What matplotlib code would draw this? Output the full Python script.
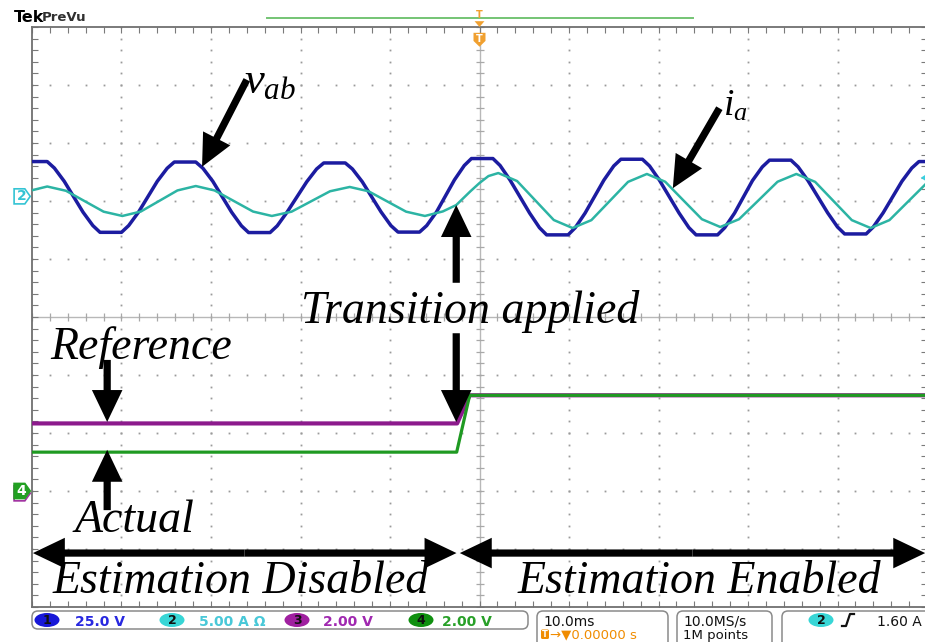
# Scope capture: line voltage, phase current and the reference/actual
# signals around the moment the estimator is switched on.

import matplotlib.pyplot as plt
import numpy as np
from matplotlib.patches import FancyArrowPatch, FancyBboxPatch, Polygon, Ellipse

plt.rcParams['mathtext.fontset'] = 'custom'
plt.rcParams['mathtext.it'] = 'Liberation Serif:italic'
plt.rcParams['mathtext.rm'] = 'Liberation Serif'

# vertical scale / position of each channel (divisions)
V_PER_DIV = 25.0     # ch1, v_ab
A_PER_DIV = 5.0      # ch2, i_a
REF_PER_DIV = 2.0    # ch3, reference
ACT_PER_DIV = 2.0    # ch4, actual
ch12_pos = 2.08
ch34_pos = -3.0
trig_level = 1.60    # A, on ch2
t_switch = -2.6      # ms, transition applied

# ch1: line voltage v_ab (ms, V)
vab_t = [-52.6, -51.5, -50.7, -48.3, -47.5, -46.4,
         -44.3, -43.2, -42.4, -40.0, -39.2, -38.1,
         -36.0, -34.9, -34.1, -31.7, -30.9, -29.8,
         -27.7, -26.6, -25.8, -23.4, -22.6, -21.5,
         -19.3, -18.2, -17.4, -15.0, -14.2, -13.1,
         -11.0, -9.9, -9.1, -6.7, -5.9, -4.8,
         -2.8, -1.7, -0.9, 1.5, 2.3, 3.4,
         5.6, 6.7, 7.5, 9.9, 10.7, 11.8,
         13.9, 15.0, 15.8, 18.2, 19.0, 20.1,
         22.3, 23.4, 24.2, 26.6, 27.4, 28.5,
         30.5, 31.6, 32.4, 34.8, 35.6, 36.7,
         38.9, 40.0, 40.8, 43.2, 44.0, 45.1,
         47.2, 48.3, 49.1, 51.5]
vab_v = [6.5, 12.2, 15.0, 15.0, 12.2, 6.5,
         -6.8, -12.6, -15.5, -15.5, -12.6, -6.8,
         6.5, 12.1, 14.8, 14.8, 12.1, 6.5,
         -6.8, -12.7, -15.6, -15.6, -12.7, -6.8,
         6.3, 11.8, 14.4, 14.4, 11.8, 6.3,
         -6.7, -12.6, -15.4, -15.4, -12.6, -6.7,
         7.1, 13.3, 16.3, 16.3, 13.3, 7.1,
         -7.2, -13.5, -16.6, -16.6, -13.5, -7.2,
         7.0, 13.1, 16.0, 16.0, 13.1, 7.0,
         -7.2, -13.5, -16.6, -16.6, -13.5, -7.2,
         6.8, 12.7, 15.6, 15.6, 12.7, 6.8,
         -7.1, -13.2, -16.2, -16.2, -13.2, -7.1,
         6.5, 12.2, 15.0, 15.0]

# ch2: phase current i_a (ms, A)
ia_t = [-50.4, -48.3, -46.2, -44.1, -42.0,
        -39.9, -37.85, -35.8, -33.75,
        -31.7, -29.6, -27.45, -25.3,
        -23.2, -21.0, -18.85, -16.7,
        -14.5, -12.4, -10.3, -8.2,
        -6.1, -4.1, -2.6, -1.0, 0.0, 1.0,
        2.1, 4.2, 6.25, 8.3,
        10.4, 12.5, 14.55, 16.6,
        18.7, 20.75, 22.8, 24.85,
        26.9, 29.0, 31.15, 33.3,
        35.4, 37.5, 39.55, 41.6,
        43.7, 45.8, 47.95, 50.1, 52.2]
ia_a = [0.45, 0.85, 0.48, -0.42, -1.32,
        -1.69, -1.31, -0.40, 0.51,
        0.89, 0.51, -0.40, -1.31,
        -1.69, -1.32, -0.44, 0.44,
        0.81, 0.44, -0.44, -1.32,
        -1.69, -1.30, -0.75, 0.45, 1.15, 1.75,
        2.01, 1.32, -0.36, -2.04,
        -2.73, -2.05, -0.40, 1.25,
        1.93, 1.26, -0.36, -1.97,
        -2.64, -1.97, -0.36, 1.26,
        1.93, 1.25, -0.40, -2.05,
        -2.73, -2.05, -0.40, 1.25, 1.93]

# ch3 / ch4: reference and actual (ms, V)
ref_t = [-50.0, -2.5, -1.1, 50.0]
ref_v = [2.33, 2.33, 3.30, 3.30]
act_t = [-50.0, -2.55, -1.1, 50.0]
act_v = [1.34, 1.34, 3.30, 3.30]

col_vab = '#1c1ca0'
col_ia = '#2cb4a4'
col_ref = '#8c1a8c'
col_act = '#1f9a22'

serif = dict(family='Liberation Serif', style='italic', color='black', zorder=8)


def draw_graticule(ax):
    '''Dotted division lines, centre cross with ticks and border ticks'''
    minor_x = np.arange(-50, 50.01, 2)
    minor_y = np.arange(-5, 5.01, 0.2)
    dot = dict(ls='none', marker='s', ms=1.3, mew=0, color='#9a9a9a', zorder=1)
    for t in range(-40, 41, 10):
        if t != 0:
            ax.plot(np.full_like(minor_y, t), minor_y, **dot)
    for d in range(-4, 5):
        if d != 0:
            ax.plot(minor_x, np.full_like(minor_x, d), **dot)
    ax.axhline(0, color='#b8b8b8', lw=1, zorder=1)
    ax.axvline(0, color='#b8b8b8', lw=1, zorder=1)
    ax.plot(minor_x, np.zeros_like(minor_x), ls='none', marker='|', ms=6,
            mew=0.9, color='#a8a8a8', zorder=1)
    ax.plot(np.zeros_like(minor_y), minor_y, ls='none', marker='_', ms=6,
            mew=0.9, color='#a8a8a8', zorder=1)
    ax.set_xticks(minor_x)
    ax.set_yticks(minor_y)
    ax.tick_params(direction='in', length=4, width=0.8, color='#7a7a7a',
                   top=True, right=True, labelbottom=False, labelleft=False)
    for s in ax.spines.values():
        s.set_color('#707070')
        s.set_linewidth(1.3)


def arrow(ax, tail, tip):
    '''Heavy black annotation arrow'''
    ax.add_patch(FancyArrowPatch(tail, tip,
                 arrowstyle='simple,head_length=2.3,head_width=2.2,tail_width=0.52',
                 mutation_scale=10, shrinkA=0, shrinkB=0, fc='black',
                 ec='none', zorder=7, clip_on=False))


def channel_marker(ax, pos, label, fc, ec, tc):
    pts = [(-52.0, pos + 0.13), (-50.8, pos + 0.13), (-50.2, pos),
           (-50.8, pos - 0.13), (-52.0, pos - 0.13)]
    ax.add_patch(Polygon(pts, closed=True, fc=fc, ec=ec, lw=1.2, clip_on=False, zorder=5))
    ax.text(-51.2, pos, label, ha='center', va='center', color=tc, fontsize=10,
            fontweight='bold', clip_on=False, zorder=6)


fig = plt.figure(figsize=(9.25, 6.42), dpi=100)
ax = fig.add_axes([32 / 925, 35 / 642, 895 / 925, 580 / 642])
ax.set_xlim(-50, 50)
ax.set_ylim(-5, 5)
draw_graticule(ax)

# traces
ax.plot(ref_t, ch34_pos + np.array(ref_v) / REF_PER_DIV, color=col_ref, lw=3.0, zorder=3)
ax.plot(act_t, ch34_pos + np.array(act_v) / ACT_PER_DIV, color=col_act, lw=2.3, zorder=4)
ax.plot(vab_t, ch12_pos + np.array(vab_v) / V_PER_DIV, color=col_vab, lw=2.5, zorder=3)
ax.plot(ia_t, ch12_pos + np.array(ia_a) / A_PER_DIV, color=col_ia, lw=1.8, zorder=4)

# channel ground markers and trigger level
channel_marker(ax, ch12_pos, '2', 'white', '#34c4d4', '#34c4d4')
channel_marker(ax, ch34_pos - 0.04, '', 'white', '#a030a0', 'white')
channel_marker(ax, ch34_pos, '4', '#22a022', '#22a022', 'white')
lvl = ch12_pos + trig_level / A_PER_DIV
ax.add_patch(Polygon([(49.3, lvl), (50.2, lvl + 0.09), (50.2, lvl - 0.09)],
                     closed=True, fc='#38d0e0', ec='none', clip_on=False, zorder=6))

# record window bar and trigger position marker
ax.plot([-23.7, 23.8], [5.155, 5.155], color='#74c474', lw=1.4, clip_on=False)
ax.add_patch(Polygon([(-0.67, 4.90), (0.67, 4.90), (0.67, 4.76), (0, 4.66), (-0.67, 4.76)],
                     closed=True, fc='#f0a030', ec='none', clip_on=False, zorder=6))
ax.text(0, 4.80, 'T', ha='center', va='center', color='white', fontsize=7,
        fontweight='bold', zorder=7)
ax.add_patch(Polygon([(-0.55, 5.10), (0.55, 5.10), (0, 5.0)], closed=True,
                     fc='#f0a030', ec='none', clip_on=False, zorder=6))
ax.text(0, 5.2, 'T', ha='center', va='center', color='#f0a030', fontsize=7,
        fontweight='bold', clip_on=False, zorder=6)

# annotations
ax.text(-26.3, 3.86, r'$v_{ab}$', fontsize=32, ha='left', va='baseline', zorder=8)
arrow(ax, (-26.0, 4.09), (-31.0, 2.59))
ax.text(27.2, 3.48, r'$i_{a}$', fontsize=27, ha='left', va='baseline', zorder=8)
arrow(ax, (26.8, 3.60), (21.6, 2.22))

ax.text(-19.9, -0.10, 'Transition applied', fontsize=33, ha='left', va='baseline', **serif)
arrow(ax, (t_switch, 0.59), (t_switch, 1.93))
arrow(ax, (t_switch, -0.28), (t_switch, -1.81))

ax.text(-48.0, -0.72, 'Reference', fontsize=33, ha='left', va='baseline', **serif)
arrow(ax, (-41.6, -0.74), (-41.6, -1.81))
ax.text(-45.25, -3.71, 'Actual', fontsize=33, ha='left', va='baseline', **serif)
arrow(ax, (-41.6, -3.33), (-41.6, -2.29))

mid_l = (-49.9 + t_switch) / 2
arrow(ax, (mid_l, -4.07), (-49.9, -4.07))
arrow(ax, (mid_l, -4.07), (t_switch + 0.03, -4.07))
mid_r = (t_switch + 0.4 + 49.8) / 2
arrow(ax, (mid_r, -4.07), (t_switch + 0.4, -4.07))
arrow(ax, (mid_r, -4.07), (49.8, -4.07))
ax.text(-47.7, -4.76, 'Estimation Disabled', fontsize=33, ha='left', va='baseline', **serif)
ax.text(4.25, -4.76, 'Estimation Enabled', fontsize=33, ha='left', va='baseline', **serif)

# header and status bar, laid out in figure pixels
sb = fig.add_axes([0, 0, 1, 1])
sb.set_xlim(0, 925)
sb.set_ylim(642, 0)
sb.axis('off')
sb.text(14, 22, 'Tek', fontsize=11.5, fontweight='bold', color='black', va='baseline')
sb.text(42, 21, 'PreVu', fontsize=9.5, fontweight='semibold', color='#303030', va='baseline')


def box(x0, x1, y0, y1):
    sb.add_patch(FancyBboxPatch((x0, y0), x1 - x0, y1 - y0,
                 boxstyle='round,pad=0,rounding_size=6', fc='white',
                 ec='#8a8a8a', lw=1.1))


def chan_badge(xc, label, fc):
    sb.add_patch(Ellipse((xc, 620), 25, 14, fc=fc, ec='none'))
    sb.text(xc, 620.5, label, ha='center', va='center', fontsize=9,
            fontweight='bold', color='#101010')


box(32, 528, 611, 629)
box(537, 668, 611, 652)
box(677, 772, 611, 652)
box(782, 940, 611, 652)

status = [(47, '1', '#1818d8', '25.0 V', 75, '#2828e0'),
          (172, '2', '#38d6d6', '5.00 A \u03a9', 199, '#48c8d8'),
          (297, '3', '#a020a0', '2.00 V', 323, '#a028b0'),
          (421, '4', '#109010', '2.00 V', 442, '#28a028')]
for xc, lab, fc, txt, xt, tc in status:
    chan_badge(xc, lab, fc)
    sb.text(xt, 625.5, txt, fontsize=10, fontweight='bold', color=tc, va='baseline')

sb.text(543, 625.5, '10.0ms', fontsize=10, color='#111111', va='baseline')
sb.add_patch(FancyBboxPatch((541, 629.5), 8, 9.5, boxstyle='round,pad=0,rounding_size=1.5',
                            fc='#f08c00', ec='none'))
sb.text(545, 634.5, 'T', ha='center', va='center', fontsize=6, fontweight='bold', color='white')
sb.text(550, 638.5, '\u2192\u25bc0.00000 s', fontsize=9.5, color='#f08c00', va='baseline')
sb.text(683, 625.5, '10.0MS/s', fontsize=10, color='#111111', va='baseline')
sb.text(683, 638.5, '1M points', fontsize=9.5, color='#111111', va='baseline')
chan_badge(821, '2', '#38d6d6')
sb.plot([842, 846, 850, 854], [626, 626, 614, 614], color='#111111', lw=1.6)
sb.text(877, 625.5, '1.60 A', fontsize=10, color='#111111', va='baseline')

fig.savefig('out.png', dpi=100, facecolor='white')
